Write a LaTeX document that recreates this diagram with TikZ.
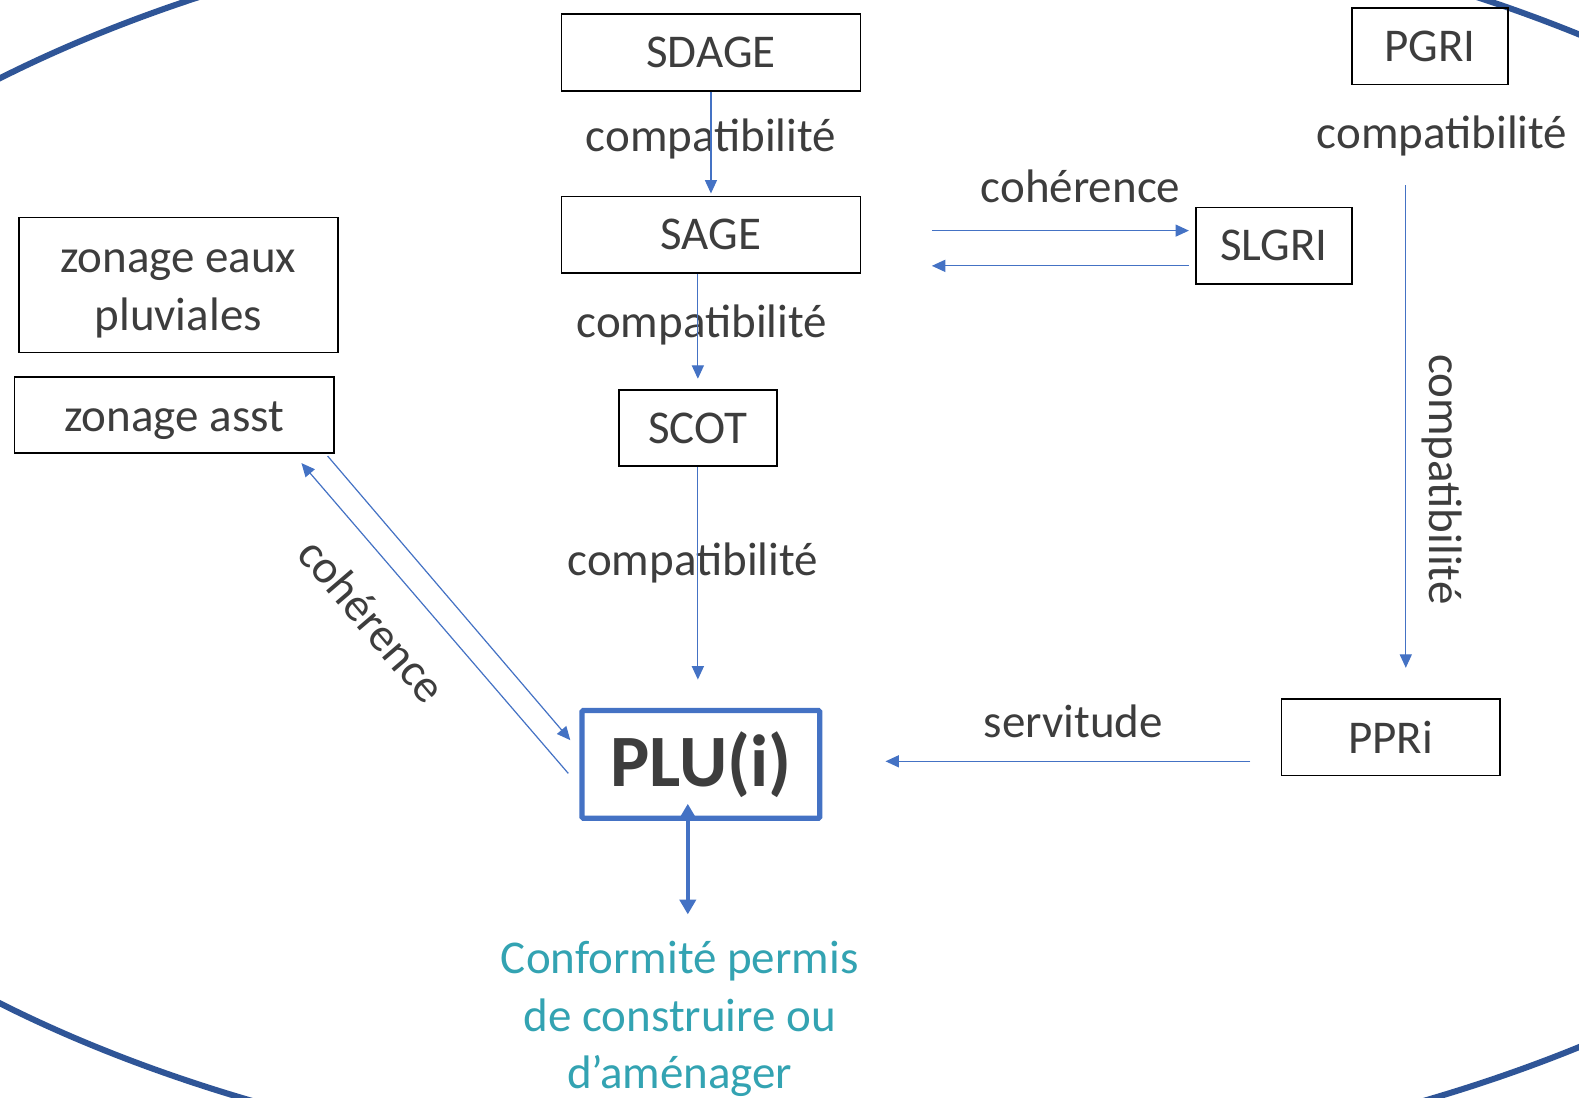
\documentclass[tikz,border=0pt]{standalone}
\usepackage{fontspec}
\setmainfont{Carlito}
\usetikzlibrary{arrows.meta,calc}

\definecolor{txtgray}{HTML}{3D3D3D}
\definecolor{linkblue}{HTML}{4472C4}
\definecolor{ringblue}{HTML}{2F5597}
\definecolor{confteal}{HTML}{33A3B2}

\tikzset{
  doc/.style={draw=black, line width=1.3pt, text=txtgray, inner sep=0pt,
    minimum height=57pt, align=center, font=\fontsize{35}{43}\selectfont},
  lbl/.style={text=txtgray, inner sep=0pt, font=\fontsize{35}{43}\selectfont},
  link/.style={draw=linkblue, line width=0.9pt,
    -{Triangle[length=10pt,width=9pt]}},
  biglink/.style={draw=linkblue, line width=3pt,
    {Triangle[length=11pt,width=12pt]}-{Triangle[length=11pt,width=12pt]}},
}

\begin{document}
\begin{tikzpicture}[x=0.75pt,y=-0.75pt]
            \useasboundingbox (0,0) rectangle (1568,1090);
            \clip (0,0) rectangle (1568,1090);

            % Outer ring
            \draw[ringblue, line width=4.5pt] (832,537) ellipse [x radius=1205, y radius=635];

            % Documents of the water chain
            \node[doc, minimum width=222.75pt] (sdage) at (706,52) {SDAGE};
            \node[doc, minimum width=222.75pt] (sage) at (706,233) {SAGE};
            \node[doc, minimum width=117.75pt] (scot) at (693,425) {SCOT};

            % Flood risk documents
            \node[doc, minimum width=116.25pt] (pgri) at (1420,46) {PGRI};
            \node[doc, minimum width=116.25pt] (slgri) at (1265,244) {SLGRI};
            \node[doc, minimum width=162.75pt] (ppri) at (1381,732) {PPRi};

            % Zonages
            \node[doc, minimum width=237.75pt, minimum height=100.5pt,
              text height=75pt, text depth=7pt] (pluv) at (177,283) {zonage eaux\\pluviales};
            \node[doc, minimum width=237.75pt,
              text height=32pt, text depth=7pt] (asst) at (173,412) {zonage asst};

            % PLU(i)
            \node[doc, draw=linkblue, line width=4pt, rounded corners=1pt,
              minimum width=177pt, minimum height=80.25pt,
              font=\fontsize{55}{60}\selectfont\bfseries] (plu) at (696,759) {PLU(i)};

            % Conformite
            \node[lbl, text=confteal, align=center] (conf) at (675,1012)
              {Conformité permis\\de construire ou\\d’aménager};

            % Labels
            \node[lbl] (l-sdage) at (706,138) {compatibilité};
            \node[lbl] (l-sage) at (697,323) {compatibilité};
            \node[lbl] (l-scot) at (688,559) {compatibilité};
            \node[lbl] (l-pgri) at (1432,135) {compatibilité};
            \node[lbl, rotate=-90] (l-ppri) at (1432,476) {compatibilité};
            \node[lbl] (l-slgri) at (1073,185) {cohérence};
            \node[lbl] (l-serv) at (1066,716) {servitude};
            \node[lbl, rotate=-49.5] (l-asst) at (370,616) {cohérence};

            % Free ends of the links
            \coordinate (c-up) at (0,229);
            \coordinate (c-lo) at (0,264);
            \coordinate (c-serv) at (0,756);
            \coordinate (pgri-out) at (1396,184);
            \coordinate (conf-top) at (683,908);

            % Vertical chain
            \draw[link, shorten >=1.5pt] (sdage.south) -- (sage.north);
            \draw[link, shorten >=7.5pt] (sage.south -| scot) -- (scot.north);
            \draw[link, shorten >=21pt] (scot.south) -- (plu.north -| scot);

            % PGRI to PPRi
            \draw[link, shorten >=22.5pt] (pgri-out) -- (pgri-out |- ppri.north);

            % SAGE and SLGRI
            \draw[link, shorten <=52.5pt, shorten >=4.5pt] (sage.east |- c-up) -- (slgri.west |- c-up);
            \draw[link, shorten <=4.5pt, shorten >=52.5pt] (slgri.west |- c-lo) -- (sage.east |- c-lo);

            % PPRi to PLU(i)
            \draw[link, shorten <=22.5pt, shorten >=47pt] (ppri.west |- c-serv) -- (plu.east |- c-serv);

            % zonage asst and PLU(i)
            \draw[link] ([shift={(-7,2)}]asst.south east) -- ([shift={(-9,-24)}]plu.west);
            \draw[link] ([shift={(-11,9)}]plu.west) -- ([shift={(-33,9)}]asst.south east);

            % PLU(i) to conformite
            \draw[biglink] ($(plu.south -| conf-top)+(0,-17)$) -- (conf-top);
        \end{tikzpicture}
\end{document}
